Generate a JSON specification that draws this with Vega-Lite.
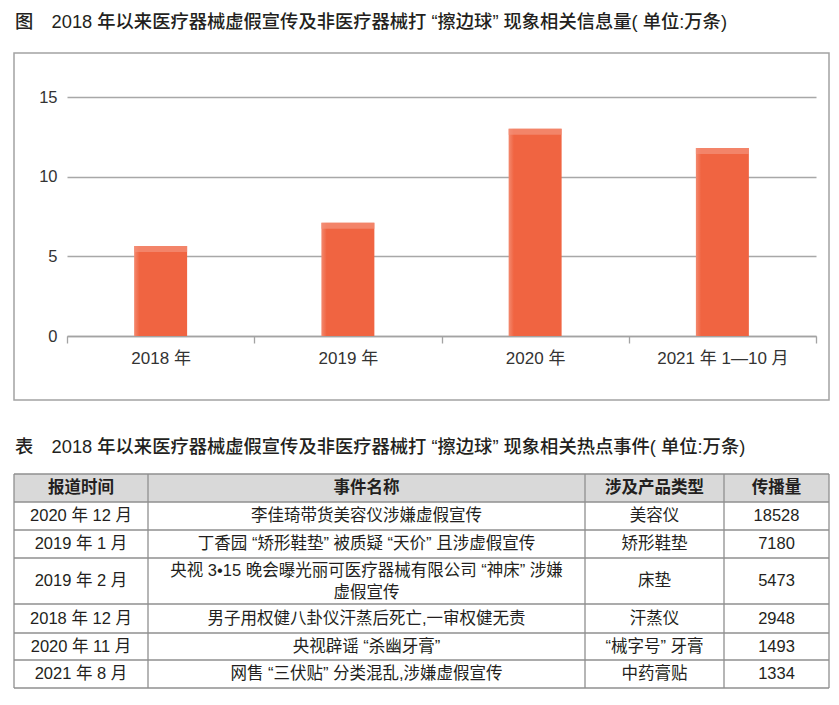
{
  "$schema": "https://vega.github.io/schema/vega-lite/v6.json",
  "background": "white",
  "padding": {"left": 0, "top": 11, "right": 0, "bottom": 0},
  "spacing": 37,
  "config": {
    "font": "Liberation Sans, Noto Sans CJK SC, sans-serif",
    "view": {"stroke": null},
    "title": {"fontSize": 18.3, "fontWeight": 500, "color": "#231f20", "anchor": "start", "frame": "group"}
  },
  "datasets": {
    "bars": [
      {"period": "2018 年", "value": 5.65},
      {"period": "2019 年", "value": 7.1},
      {"period": "2020 年", "value": 13.0},
      {"period": "2021 年 1—10 月", "value": 11.8}
    ],
    "header": [
      {"r": 0, "c": 0, "t": "报道时间"},
      {"r": 0, "c": 1, "t": "事件名称"},
      {"r": 0, "c": 2, "t": "涉及产品类型"},
      {"r": 0, "c": 3, "t": "传播量"}
    ],
    "cells": [
      {"r": 1, "c": 0, "t": "2020 年 12 月"},
      {"r": 1, "c": 1, "t": "李佳琦带货美容仪涉嫌虚假宣传"},
      {"r": 1, "c": 2, "t": "美容仪"},
      {"r": 1, "c": 3, "t": "18528"},
      {"r": 2, "c": 0, "t": "2019 年 1 月"},
      {"r": 2, "c": 1, "t": "丁香园 “矫形鞋垫” 被质疑 “天价” 且涉虚假宣传"},
      {"r": 2, "c": 2, "t": "矫形鞋垫"},
      {"r": 2, "c": 3, "t": "7180"},
      {"r": 3, "c": 0, "t": "2019 年 2 月"},
      {"r": 3, "c": 2, "t": "床垫"},
      {"r": 3, "c": 3, "t": "5473"},
      {"r": 4, "c": 0, "t": "2018 年 12 月"},
      {"r": 4, "c": 1, "t": "男子用权健八卦仪汗蒸后死亡,一审权健无责"},
      {"r": 4, "c": 2, "t": "汗蒸仪"},
      {"r": 4, "c": 3, "t": "2948"},
      {"r": 5, "c": 0, "t": "2020 年 11 月"},
      {"r": 5, "c": 1, "t": "央视辟谣 “杀幽牙膏”"},
      {"r": 5, "c": 2, "t": "“械字号” 牙膏"},
      {"r": 5, "c": 3, "t": "1493"},
      {"r": 6, "c": 0, "t": "2021 年 8 月"},
      {"r": 6, "c": 1, "t": "网售 “三伏贴” 分类混乱,涉嫌虚假宣传"},
      {"r": 6, "c": 2, "t": "中药膏贴"},
      {"r": 6, "c": 3, "t": "1334"}
    ],
    "wrapped": [
      {"r": 3, "c": 1, "t": "央视 3•15 晚会曝光丽可医疗器械有限公司 “神床” 涉嫌\n虚假宣传"}
    ],
    "hlines": [{"b": 0}, {"b": 1}, {"b": 2}, {"b": 3}, {"b": 4}, {"b": 5}, {"b": 6}, {"b": 7}],
    "vlines": [{"v": 0}, {"v": 1}, {"v": 2}, {"v": 3}, {"v": 4}]
  },
  "vconcat": [
    {
      "width": 815,
      "height": 347,
      "view": {"stroke": "#a3a3a3", "strokeWidth": 1.5},
      "title": {"text": "图　2018 年以来医疗器械虚假宣传及非医疗器械打 “擦边球” 现象相关信息量( 单位:万条)", "offset": 21, "dx": 1},
      "data": {"name": "bars"},
      "encoding": {
        "x": {
          "field": "period", "type": "nominal", "sort": null,
          "scale": {"range": [53, 802], "paddingInner": 0, "paddingOuter": 0},
          "axis": {"title": null, "labelAngle": 0, "tickBand": "extent", "offset": -64, "grid": false,
                   "domainColor": "#a3a3a3", "domainWidth": 1.3, "tickColor": "#a3a3a3", "tickWidth": 1.3, "tickSize": 7,
                   "labelFontSize": 17, "labelColor": "#333333", "labelPadding": 7, "minExtent": 0}
        },
        "y": {
          "field": "value", "type": "quantitative",
          "scale": {"domain": [0, 15], "range": [283, 44], "nice": false, "zero": true},
          "axis": {"title": null, "offset": -53, "values": [0, 5, 10, 15], "grid": true, "gridColor": "#a8a8a8", "gridWidth": 1.3,
                   "domain": false, "ticks": false, "labelPadding": 10, "labelFontSize": 16.5, "labelColor": "#333333", "minExtent": 0}
        }
      },
      "layer": [
        {
          "mark": {
            "type": "bar", "width": {"band": 0.283},
            "color": {"gradient": "linear", "x1": 0, "x2": 1, "y1": 0, "y2": 0,
                      "stops": [{"offset": 0, "color": "#f3896f"}, {"offset": 0.1, "color": "#f06441"}, {"offset": 1, "color": "#f06441"}]}
          }
        },
        {
          "mark": {"type": "tick", "orient": "horizontal", "size": 53, "thickness": 6, "yOffset": 3, "color": "#f4917a"}
        }
      ]
    },
    {
      "width": 815,
      "height": 214,
      "title": {"text": "表　2018 年以来医疗器械虚假宣传及非医疗器械打 “擦边球” 现象相关热点事件( 单位:万条)", "offset": 16, "dx": 1},
      "layer": [
        {
          "data": {"name": "header"},
          "mark": {"type": "rule", "color": "#d9d9d9", "strokeWidth": 28},
          "encoding": {
            "y": {"field": "r", "type": "quantitative", "axis": null,
                  "scale": {"domain": [0, 1, 2, 3, 4, 5, 6], "range": [14, 42, 70, 107, 144.5, 172.5, 200], "nice": false, "zero": false}}
          }
        },
        {
          "data": {"name": "hlines"},
          "mark": {"type": "rule", "color": "#8f8f8f", "strokeWidth": 1.3},
          "encoding": {
            "y": {"field": "b", "type": "quantitative", "axis": null,
                  "scale": {"domain": [0, 1, 2, 3, 4, 5, 6, 7], "range": [0, 28, 56, 84, 130, 159, 186, 214], "nice": false, "zero": false}}
          }
        },
        {
          "data": {"name": "vlines"},
          "mark": {"type": "rule", "color": "#8f8f8f", "strokeWidth": 1.3},
          "encoding": {
            "x": {"field": "v", "type": "quantitative", "axis": null,
                  "scale": {"domain": [0, 1, 2, 3, 4], "range": [0, 134, 571, 710, 815], "nice": false, "zero": false}}
          }
        },
        {
          "data": {"name": "header"},
          "mark": {"type": "text", "fontSize": 16.5, "fontWeight": "bold", "color": "#231f20", "baseline": "middle", "align": "center"},
          "encoding": {
            "x": {"field": "c", "type": "quantitative", "axis": null,
                  "scale": {"domain": [0, 1, 2, 3], "range": [67, 352.5, 640.5, 762.5], "nice": false, "zero": false}},
            "y": {"field": "r", "type": "quantitative", "axis": null,
                  "scale": {"domain": [0, 1, 2, 3, 4, 5, 6], "range": [14, 42, 70, 107, 144.5, 172.5, 200], "nice": false, "zero": false}},
            "text": {"field": "t"}
          }
        },
        {
          "data": {"name": "cells"},
          "mark": {"type": "text", "fontSize": 16.5, "color": "#231f20", "baseline": "middle", "align": "center"},
          "encoding": {
            "x": {"field": "c", "type": "quantitative", "axis": null,
                  "scale": {"domain": [0, 1, 2, 3], "range": [67, 352.5, 640.5, 762.5], "nice": false, "zero": false}},
            "y": {"field": "r", "type": "quantitative", "axis": null,
                  "scale": {"domain": [0, 1, 2, 3, 4, 5, 6], "range": [14, 42, 70, 107, 144.5, 172.5, 200], "nice": false, "zero": false}},
            "text": {"field": "t"}
          }
        },
        {
          "data": {"name": "wrapped"},
          "mark": {"type": "text", "fontSize": 16.5, "color": "#231f20", "baseline": "middle", "align": "center", "lineBreak": "\n", "lineHeight": 22, "dy": -10},
          "encoding": {
            "x": {"field": "c", "type": "quantitative", "axis": null,
                  "scale": {"domain": [0, 1, 2, 3], "range": [67, 352.5, 640.5, 762.5], "nice": false, "zero": false}},
            "y": {"field": "r", "type": "quantitative", "axis": null,
                  "scale": {"domain": [0, 1, 2, 3, 4, 5, 6], "range": [14, 42, 70, 107, 144.5, 172.5, 200], "nice": false, "zero": false}},
            "text": {"field": "t"}
          }
        }
      ],
      "resolve": {"scale": {"x": "independent", "y": "independent"}}
    }
  ]
}
